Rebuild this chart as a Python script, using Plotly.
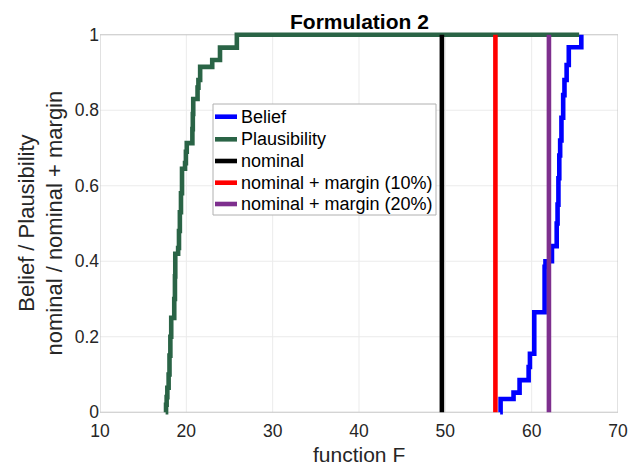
import plotly.graph_objects as go

# ---- data ----
plaus_x = [17.6, 17.65, 17.72, 17.8, 17.95, 18.05, 18.15, 18.25, 18.6, 18.68, 18.72,
           19.05, 19.15, 19.25, 19.38, 19.5, 19.85, 19.95, 20.05, 20.7, 20.75, 20.8,
           21.3, 21.4, 21.6, 23.0, 23.9, 25.85, 65.5]
plaus_y = [0.0, 0.02, 0.04, 0.065, 0.1, 0.15, 0.2, 0.25, 0.3, 0.36, 0.42,
           0.435, 0.48, 0.53, 0.58, 0.645, 0.66, 0.69, 0.713, 0.75, 0.79, 0.83,
           0.86, 0.88, 0.915, 0.933, 0.966, 1.0, 1.0]

belief_x = [56.35, 56.4, 57.9, 58.6, 59.65, 59.8, 60.3, 61.5, 61.6, 62.35, 62.9,
            63.0, 63.1, 63.2, 63.3, 63.45, 63.65, 63.8, 64.05, 64.3, 65.75, 65.75]
belief_y = [0.0, 0.035, 0.052, 0.085, 0.12, 0.155, 0.265, 0.385, 0.40, 0.44, 0.50,
            0.55, 0.62, 0.68, 0.72, 0.78, 0.84, 0.88, 0.92, 0.967, 1.0, 1.0]

nominal = 49.6
margin10 = 55.8
margin20 = 62.0

x_ticks = [10, 20, 30, 40, 50, 60, 70]
y_ticks = [0, 0.2, 0.4, 0.6, 0.8, 1]
y_tick_labels = ["0", "0.2", "0.4", "0.6", "0.8", "1"]

series_names = ["Belief", "Plausibility", "nominal",
                "nominal + margin (10%)", "nominal + margin (20%)"]
series_colors = ["#0000FF", "#2A6446", "#000000", "#FF0000", "#7E2F8E"]

FONT = "Liberation Sans, Arial, Helvetica, sans-serif"
LW = 4.6

# figure geometry (page is offset by the 8px body margin)
W, H = 635, 458
ML, MR, MT, MB = 92, 25, 23, 50
PW = W - ML - MR
PH = H - MT - MB


def px_x(p):
    return (p - ML) / PW


def px_y(p):
    return (H - MB - p) / PH


fig = go.Figure()
fig.add_trace(go.Scatter(x=belief_x, y=belief_y, mode="lines", name=series_names[0],
                         line=dict(color=series_colors[0], width=LW, shape="hv")))
fig.add_trace(go.Scatter(x=plaus_x, y=plaus_y, mode="lines", name=series_names[1],
                         line=dict(color=series_colors[1], width=LW, shape="hv")))
for v, nm, col in zip([nominal, margin10, margin20], series_names[2:], series_colors[2:]):
    fig.add_trace(go.Scatter(x=[v, v], y=[0, 1], mode="lines", name=nm,
                             line=dict(color=col, width=LW)))

shapes = []
for xv in x_ticks[1:-1]:
    shapes.append(dict(type="line", xref="x", yref="y", x0=xv, x1=xv, y0=0, y1=1,
                       line=dict(color="#EBEBEB", width=1), layer="below"))
for yv in y_ticks[1:-1]:
    shapes.append(dict(type="line", xref="x", yref="y", x0=x_ticks[0], x1=x_ticks[-1], y0=yv, y1=yv,
                       line=dict(color="#EBEBEB", width=1), layer="below"))
shapes.append(dict(type="rect", xref="x", yref="y", x0=x_ticks[0], x1=x_ticks[-1], y0=0, y1=1,
                   line=dict(color="#C4C4C4", width=1), layer="below"))

# custom legend (box, line samples, labels)
LEG_L, LEG_R, LEG_T, LEG_B = 205, 428, 96, 207
row_y = [108.7, 131.3, 153.0, 174.7, 196.0]
shapes.append(dict(type="rect", xref="paper", yref="paper",
                   x0=px_x(LEG_L), x1=px_x(LEG_R), y0=px_y(LEG_B), y1=px_y(LEG_T),
                   line=dict(color="#B0B0B0", width=1), fillcolor="white", layer="above"))
annotations = []
for ry, nm, col in zip(row_y, series_names, series_colors):
    shapes.append(dict(type="line", xref="paper", yref="paper",
                       x0=px_x(207), x1=px_x(229), y0=px_y(ry), y1=px_y(ry),
                       line=dict(color=col, width=LW), layer="above"))
    annotations.append(dict(text=nm, x=px_x(231), y=px_y(ry), xref="paper", yref="paper",
                            showarrow=False, xanchor="left", yanchor="middle",
                            font=dict(size=18, color="#000000", family=FONT)))

annotations += [
    dict(text="<b>Formulation 2</b>", x=0.5, y=1, xref="paper", yref="paper",
         showarrow=False, font=dict(size=21, color="#000000", family=FONT),
         xanchor="center", yanchor="middle", yshift=10),
    dict(text="function F", x=0.5, y=0, xref="paper", yref="paper",
         showarrow=False, font=dict(size=21, color="#262626", family=FONT),
         xanchor="center", yanchor="middle", yshift=-38, borderpad=0),
    dict(text="Belief / Plausibility<br>nominal / nominal + margin", x=0, y=0.5,
         xref="paper", yref="paper", textangle=-90, showarrow=False,
         font=dict(size=22, color="#262626", family=FONT),
         xanchor="center", yanchor="middle", xshift=-60),
]

fig.update_layout(
    width=W, height=H,
    margin=dict(l=ML, r=MR, t=MT, b=MB, autoexpand=False),
    paper_bgcolor="white", plot_bgcolor="white",
    font=dict(family=FONT, size=17.5, color="#262626"),
    showlegend=False,
    xaxis=dict(range=[10, 70], tickvals=x_ticks, showgrid=False, zeroline=False,
               showline=False, ticks="", ticklen=0, ticklabelstandoff=2,
               tickfont=dict(size=17.5, color="#262626")),
    yaxis=dict(range=[-0.01, 1.01], tickvals=y_ticks, ticktext=y_tick_labels,
               showgrid=False, zeroline=False, showline=False, ticks="", ticklen=0,
               tickfont=dict(size=17.5, color="#262626")),
    shapes=shapes,
    annotations=annotations,
)

fig.write_html("out.html")
